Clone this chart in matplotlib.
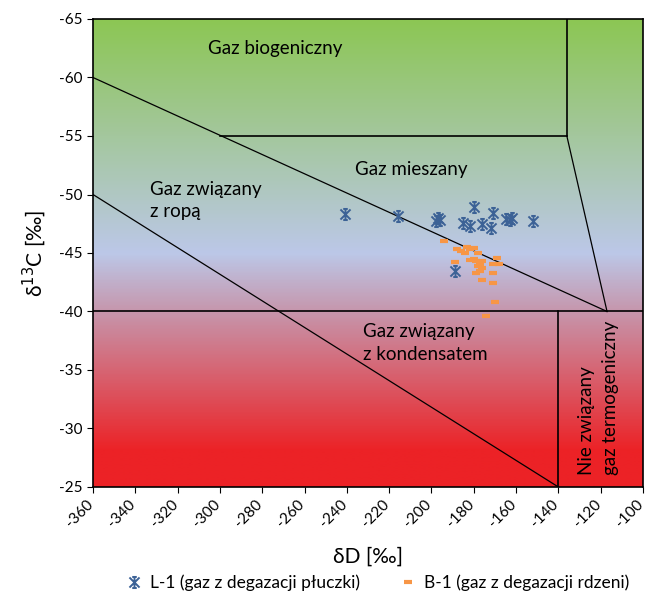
import matplotlib
matplotlib.use('Agg')

import numpy as np
import matplotlib.pyplot as plt
import matplotlib.transforms as mtransforms
from matplotlib.colors import LinearSegmentedColormap
from matplotlib.path import Path

plt.rcParams['font.family'] = ['Lato', 'DejaVu Sans']
plt.rcParams['axes.unicode_minus'] = False

# L-1 (gas from mud degassing): dD, d13C
l1_dD = [-241, -216, -198, -197, -196, -185, -182, -180, -176, -172, -171,
         -165, -163, -162, -152, -189]
l1_d13C = [-48.3, -48.2, -47.7, -48.0, -47.8, -47.6, -47.3, -48.9, -47.5, -47.1,
           -48.4, -47.9, -47.8, -48.0, -47.7, -43.5]

# B-1 (gas from core degassing)
b1_dD = [-194, -188, -186, -184, -182, -178, -189, -182, -180, -179, -177, -176,
         -178, -176, -177, -179, -171, -169, -168, -171, -176, -171, -170, -174,
         -183, -180]
b1_d13C = [-46.0, -45.3, -45.2, -45.0, -45.3, -45.0, -44.2, -44.4, -44.5, -44.3,
           -44.1, -44.3, -43.9, -43.7, -43.5, -43.3, -44.1, -44.6, -44.1, -43.3,
           -42.7, -42.4, -40.8, -39.6, -45.5, -45.4]

# zone boundaries (dD, d13C)
zone_lines = [
    ([-136, -136], [-65, -55]),
    ([-300, -136], [-55, -55]),
    ([-360, -117], [-60, -40]),
    ([-136, -117], [-55, -40]),
    ([-360, -140], [-50, -25]),
    ([-360, -100], [-40, -40]),
    ([-140, -140], [-40, -25]),
]

zone_labels = [
    ('Gaz biogeniczny', -274, -62.5, 'center', 0),
    ('Gaz mieszany', -209.5, -52.1, 'center', 0),
    ('Gaz związany\nz ropą', -333, -49.5, 'left', 0),
    ('Gaz związany\nz kondensatem', -232.5, -37.3, 'left', 0),
    ('Nie związany\ngaz termogeniczny', -121.0, -32.6, 'center', 90),
]

# background gradient stops (d13C, colour)
grad_stops = [(-65, '#8cc654'), (-45, '#bcc8e8'), (-40, '#c696ac'),
              (-28, '#ec2226'), (-25, '#ec2226')]


def star_marker():
    verts = [(-1, -1), (1, 1), (-1, 1), (1, -1), (0, -1.1), (0, 1.1),
             (-0.45, 1.1), (0.45, 1.1), (-0.45, -1.1), (0.45, -1.1)]
    codes = [Path.MOVETO, Path.LINETO] * 5
    return Path(verts, codes)


fig = plt.figure(figsize=(6.46, 6.02), dpi=100)
ax = fig.add_axes([93 / 646, 1 - 487 / 602, 550 / 646, 468 / 602])

# Background
lo, hi = grad_stops[0][0], grad_stops[-1][0]
cmap = LinearSegmentedColormap.from_list(
    'bg', [((v - lo) / (hi - lo), c) for v, c in grad_stops])
grad = np.linspace(0, 1, 400).reshape(-1, 1)
ax.imshow(grad, cmap=cmap, aspect='auto', extent=[-360, -100, -25, -65],
          origin='upper', zorder=0, interpolation='bilinear')

for xs, ys in zone_lines:
    lw = 1.2 if (xs[0] == xs[1] or ys[0] == ys[1]) else 0.9
    ax.plot(xs, ys, color='black', lw=lw, zorder=2)

for txt, x, y, ha, rot in zone_labels:
    if rot:
        ax.text(x, y, txt, ha='center', va='center', rotation=rot,
                multialignment='left', fontsize=13.5, zorder=3,
                linespacing=1.45)
    else:
        ax.text(x, y, txt, ha=ha, va='center', fontsize=13.5, zorder=3,
                linespacing=1.4)

ax.plot(l1_dD, l1_d13C, linestyle='none', marker=star_marker(), markersize=8,
        markeredgewidth=1.4, color='#3c6296', zorder=4,
        label='L-1 (gaz z degazacji płuczki)')
ax.plot(b1_dD, b1_d13C, linestyle='none', marker='_', markersize=6,
        markeredgewidth=3, color='#f79646', zorder=4,
        label='B-1 (gaz z degazacji rdzeni)')

ax.set_xlim(-360, -100)
ax.set_ylim(-25, -65)
ax.set_xticks(np.arange(-360, -99, 20))
ax.set_yticks(np.arange(-65, -24, 5))
ax.tick_params(axis='both', direction='out', length=4, labelsize=11)
shift = mtransforms.ScaledTranslation(-7 / 100, 0, fig.dpi_scale_trans)
for lbl in ax.get_xticklabels():
    lbl.set_rotation(45)
    lbl.set_ha('right')
    lbl.set_va('top')
    lbl.set_rotation_mode('anchor')
    lbl.set_transform(lbl.get_transform() + shift)
for s in ax.spines.values():
    s.set_linewidth(1.2)

ax.set_xlabel('δD [‰]', fontsize=15, labelpad=12)
ax.set_ylabel('δ$^{13}$C [‰]', fontsize=15, labelpad=8)

fig.legend(loc='lower center', bbox_to_anchor=(0.584, -0.008), ncol=2,
           frameon=False, fontsize=12.5, handlelength=1, columnspacing=2.3,
           handletextpad=0.4)

plt.savefig('out.png', dpi=100)
